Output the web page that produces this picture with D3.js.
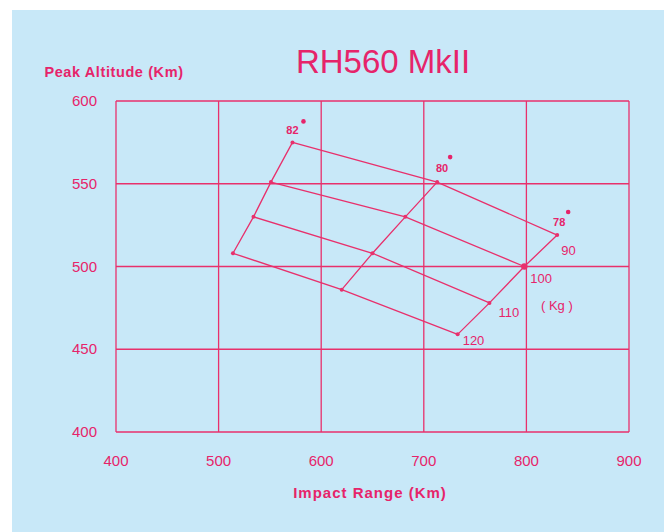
<!DOCTYPE html>
<html>
<head>
<meta charset="utf-8">
<script src="https://cdn.jsdelivr.net/npm/d3@7"></script>
<style>
  body { margin: 0; background: #ffffff; }
  svg { display: block; }
</style>
</head>
<body>
<svg id="chart" width="664" height="532"></svg>
<script>
// Tick values on each axis
const xTicks = [400, 500, 600, 700, 800, 900];
const yTicks = [400, 450, 500, 550, 600];

// Payload (kg) and launch angle (deg) families
const payloads = [90, 100, 110, 120];
const angles = [82, 80, 78];

// Impact range (km) per angle, ordered by payload 90..120
const range82 = [572, 551, 534, 514];
const range80 = [713, 682, 650, 620];
const range78 = [830, 798, 764, 733];

// Peak altitude (km) per angle, ordered by payload 90..120
const alt82 = [575, 551, 530, 508];
const alt80 = [551, 530, 508, 486];
const alt78 = [519, 500, 478, 459];

const ranges = [range82, range80, range78];
const alts = [alt82, alt80, alt78];

const pink = '#e8306c';
const textPink = '#e6246a';
const font = "'Liberation Sans', Arial, sans-serif";

const svg = d3.select('#chart');

// Light blue panel with white edge at top/left
svg.append('rect')
  .attr('x', 12).attr('y', 10)
  .attr('width', 664).attr('height', 532)
  .attr('fill', '#c8e8f8');

// Scales
const x = d3.scaleLinear().domain([400, 900]).range([116, 629]);
const y = d3.scaleLinear().domain([400, 600]).range([432, 101]);

// Grid lines
svg.append('g').selectAll('line')
  .data(xTicks)
  .enter().append('line')
  .attr('x1', d => x(d)).attr('x2', d => x(d))
  .attr('y1', y(400)).attr('y2', y(600))
  .attr('stroke', pink).attr('stroke-width', 1.3);

svg.append('g').selectAll('line')
  .data(yTicks)
  .enter().append('line')
  .attr('x1', x(400)).attr('x2', x(900))
  .attr('y1', d => y(d)).attr('y2', d => y(d))
  .attr('stroke', pink).attr('stroke-width', 1.3);

// Tick labels
svg.append('g').selectAll('text')
  .data(xTicks)
  .enter().append('text')
  .attr('x', d => x(d)).attr('y', 466)
  .attr('text-anchor', 'middle')
  .style('font-family', font).style('font-size', '15px')
  .attr('fill', textPink)
  .text(d => d);

svg.append('g').selectAll('text')
  .data(yTicks)
  .enter().append('text')
  .attr('x', 97).attr('y', d => y(d) + 5)
  .attr('text-anchor', 'end')
  .style('font-family', font).style('font-size', '15px')
  .attr('fill', textPink)
  .text(d => d);

// Title and axis titles
svg.append('text')
  .attr('x', 383).attr('y', 73)
  .attr('text-anchor', 'middle')
  .style('font-family', font).style('font-size', '33px')
  .attr('fill', textPink)
  .text('RH560 MkII');

svg.append('text')
  .attr('x', 114).attr('y', 77)
  .attr('text-anchor', 'middle')
  .style('font-family', font).style('font-size', '14.5px').style('font-weight', 'bold')
  .style('letter-spacing', '0.6px')
  .attr('fill', textPink)
  .text('Peak Altitude (Km)');

svg.append('text')
  .attr('x', 370).attr('y', 498)
  .attr('text-anchor', 'middle')
  .style('font-family', font).style('font-size', '15px').style('font-weight', 'bold')
  .style('letter-spacing', '1px')
  .attr('fill', textPink)
  .text('Impact Range (Km)');

// Build point table
const pts = angles.map((a, i) => payloads.map((p, j) => ({
  angle: a, payload: p, range: ranges[i][j], alt: alts[i][j]
})));

const line = d3.line().x(d => x(d.range)).y(d => y(d.alt));

// Constant-angle lines
svg.append('g').selectAll('path')
  .data(pts)
  .enter().append('path')
  .attr('d', line)
  .attr('fill', 'none').attr('stroke', pink).attr('stroke-width', 1.3);

// Constant-payload lines
const byPayload = payloads.map((p, j) => pts.map(row => row[j]));
svg.append('g').selectAll('path')
  .data(byPayload)
  .enter().append('path')
  .attr('d', line)
  .attr('fill', 'none').attr('stroke', pink).attr('stroke-width', 1.3);

// Points
svg.append('g').selectAll('circle')
  .data(pts.flat())
  .enter().append('circle')
  .attr('cx', d => x(d.range)).attr('cy', d => y(d.alt))
  .attr('r', d => (d.angle === 78 && d.payload === 100) ? 3.2 : 2)
  .attr('fill', pink);

// Angle labels with degree dot
const angleOffsets = [[0, -8, 11, -21], [5, -10, 13, -25], [2, -9, 11, -23]];
const topPts = pts.map(row => row[0]);
svg.append('g').selectAll('text')
  .data(topPts)
  .enter().append('text')
  .attr('x', (d, i) => x(d.range) + angleOffsets[i][0])
  .attr('y', (d, i) => y(d.alt) + angleOffsets[i][1])
  .attr('text-anchor', 'middle')
  .style('font-family', font).style('font-size', '11px').style('font-weight', 'bold')
  .attr('fill', textPink)
  .text(d => d.angle);

svg.append('g').selectAll('circle')
  .data(topPts)
  .enter().append('circle')
  .attr('cx', (d, i) => x(d.range) + angleOffsets[i][2])
  .attr('cy', (d, i) => y(d.alt) + angleOffsets[i][3])
  .attr('r', 2.3)
  .attr('fill', textPink);

// Payload labels next to the 78 deg line
const payloadOffsets = [[4, 20], [6, 16], [9, 14], [5, 11]];
svg.append('g').selectAll('text')
  .data(pts[2])
  .enter().append('text')
  .attr('x', (d, j) => x(d.range) + payloadOffsets[j][0])
  .attr('y', (d, j) => y(d.alt) + payloadOffsets[j][1])
  .style('font-family', font).style('font-size', '13px')
  .attr('fill', textPink)
  .text(d => d.payload);

svg.append('text')
  .attr('x', 541).attr('y', 310)
  .style('font-family', font).style('font-size', '13px')
  .attr('fill', textPink)
  .text('( Kg )');
</script>
</body>
</html>
